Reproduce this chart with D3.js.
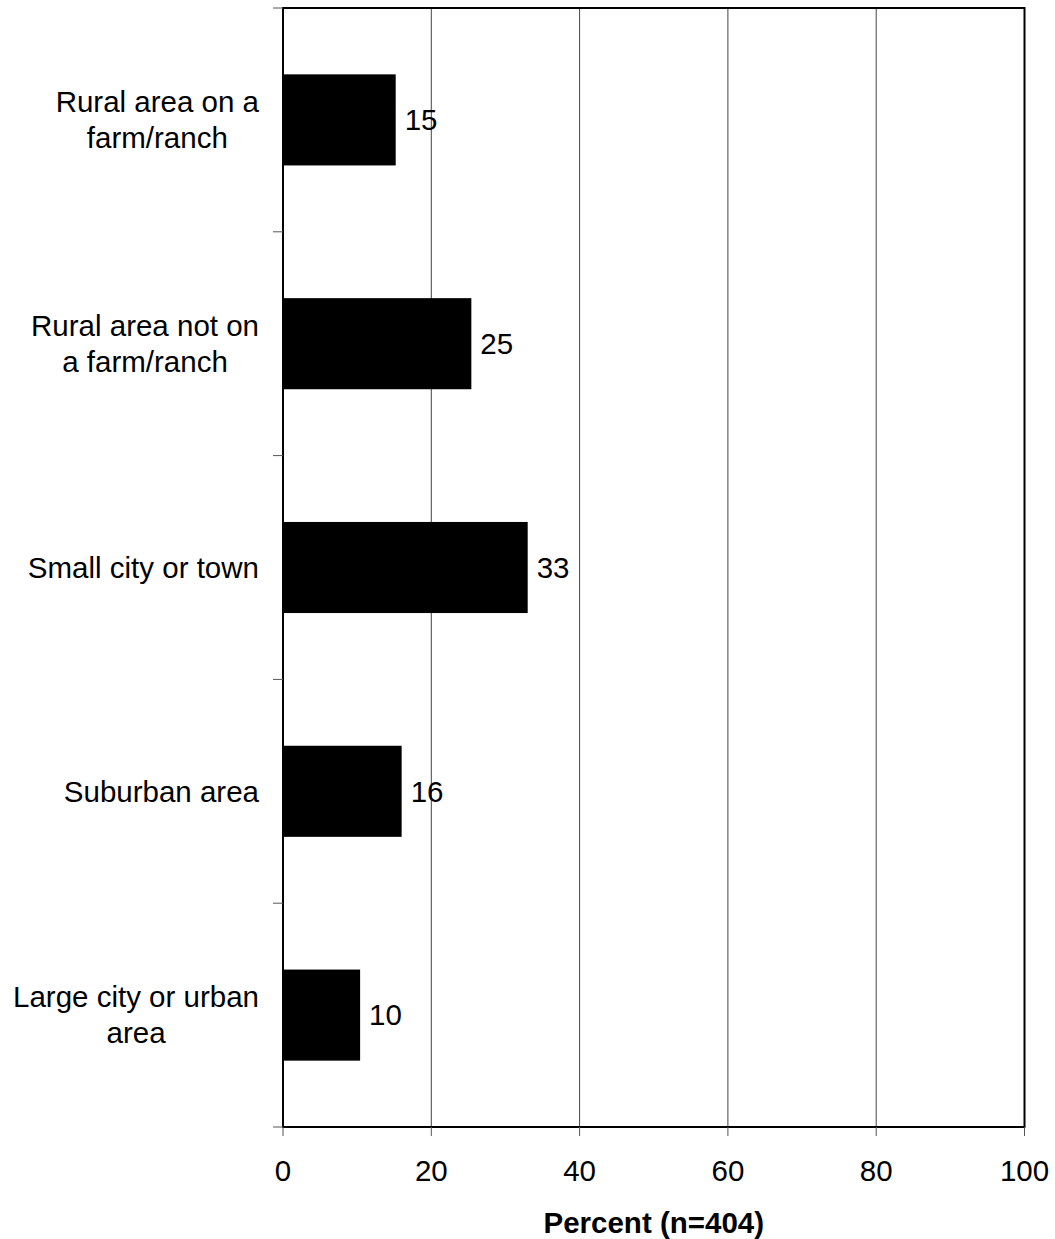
<!DOCTYPE html>
<html>
<head>
<meta charset="utf-8">
<script src="https://cdn.jsdelivr.net/npm/d3@7"></script>
<style>
  body { margin: 0; background: #fff; }
  text { font-family: "Liberation Sans", Arial, sans-serif; }
</style>
</head>
<body>
<div id="chart"></div>
<script>
(function () {

// categories (top to bottom), each label split into its lines
const categories = [
  ["Rural area on a", "farm/ranch"],
  ["Rural area not on", "a farm/ranch"],
  ["Small city or town"],
  ["Suburban area"],
  ["Large city or urban", "area"]
];
// percent values
const values = [15.2, 25.4, 33.0, 16.0, 10.4];
const xTicks = [0, 20, 40, 60, 80, 100];
const axisTitle = "Percent (n=404)";

const margin = {top: 8, right: 30.5, bottom: 112, left: 283};
const W = 1055, H = 1239;
const width = W - margin.left - margin.right,
  height = H - margin.top - margin.bottom;
const fontSize = 29.5;

const svg = d3.select("#chart").append("svg")
    .attr("width", W)
    .attr("height", H)
  .append("g")
    .attr("transform", "translate(" + margin.left + "," + margin.top + ")");

const keys = categories.map((c, i) => i);

const x = d3.scaleLinear().domain([0, 100]).range([0, width]);

// plain band scale for the category ticks
const yBand = d3.scaleBand().domain(keys).range([0, height]);
// padded band scale for the bars
const y = d3.scaleBand().domain(keys).range([0, height])
  .paddingInner(0.593).paddingOuter(0.2965);

// vertical gridlines
svg.selectAll("line.grid")
  .data(xTicks.filter(d => d > 0 && d < 100))
  .join("line")
  .attr("class", "grid")
  .attr("x1", d => x(d)).attr("x2", d => x(d))
  .attr("y1", 0).attr("y2", height)
  .attr("stroke", "#444")
  .attr("stroke-width", 1);

// bars
svg.selectAll("rect.bar")
  .data(values)
  .join("rect")
  .attr("class", "bar")
  .attr("x", 0)
  .attr("y", (d, i) => y(i))
  .attr("width", d => x(d))
  .attr("height", y.bandwidth())
  .attr("fill", "#000");

// value labels
svg.selectAll("text.val")
  .data(values)
  .join("text")
  .attr("class", "val")
  .attr("x", d => x(d) + 9)
  .attr("y", (d, i) => y(i) + y.bandwidth() / 2)
  .attr("dy", "0.35em")
  .attr("font-size", fontSize)
  .text(d => d3.format(".0f")(d));

// frame
svg.append("rect")
  .attr("x", 0).attr("y", 0)
  .attr("width", width).attr("height", height)
  .attr("fill", "none")
  .attr("stroke", "#000")
  .attr("stroke-width", 2);

// left ticks at band boundaries
const yTickPos = keys.map(k => yBand(k)).concat([height]);
svg.selectAll("line.ytick")
  .data(yTickPos)
  .join("line")
  .attr("class", "ytick")
  .attr("x1", -10).attr("x2", 0)
  .attr("y1", d => d).attr("y2", d => d)
  .attr("stroke", "#555")
  .attr("stroke-width", 1);

// bottom ticks
svg.selectAll("line.xtick")
  .data(xTicks)
  .join("line")
  .attr("class", "xtick")
  .attr("x1", d => x(d)).attr("x2", d => x(d))
  .attr("y1", height).attr("y2", height + 9)
  .attr("stroke", "#555")
  .attr("stroke-width", 1);

// x tick labels
svg.selectAll("text.xlab")
  .data(xTicks)
  .join("text")
  .attr("class", "xlab")
  .attr("x", d => x(d))
  .attr("y", height + 54)
  .attr("text-anchor", "middle")
  .attr("font-size", fontSize)
  .text(d => d);

// axis title
svg.append("text")
  .attr("x", width / 2)
  .attr("y", height + 106)
  .attr("text-anchor", "middle")
  .attr("font-size", fontSize)
  .attr("font-weight", "bold")
  .text(axisTitle);

// category labels: block right-aligned, lines centred within the block
const lineH = 36;
const labelRight = -24;
categories.forEach((lines, i) => {
  const g = svg.append("text")
    .attr("font-size", fontSize)
    .attr("text-anchor", "middle");
  const cy = yBand(i) + yBand.bandwidth() / 2;
  const spans = lines.map((t, j) => g.append("tspan")
    .attr("y", cy + (j - (lines.length - 1) / 2) * lineH)
    .attr("dy", "0.35em")
    .text(t));
  const maxW = d3.max(spans, s => s.node().getComputedTextLength());
  spans.forEach(s => s.attr("x", labelRight - maxW / 2));
});

})()
</script>
</body>
</html>
